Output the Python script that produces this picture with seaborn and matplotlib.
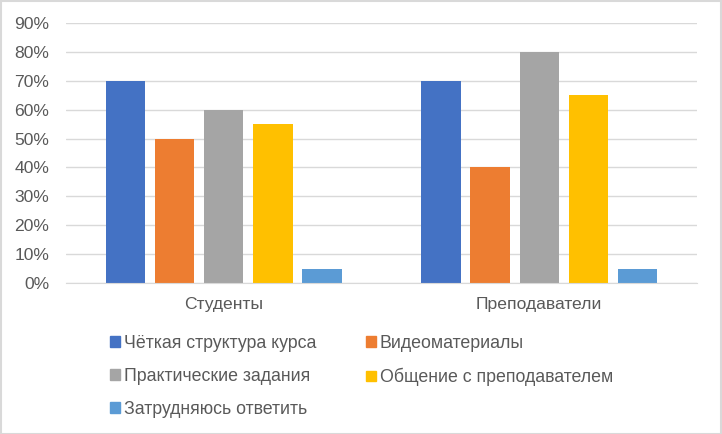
import matplotlib
matplotlib.use("Agg")
import matplotlib.pyplot as plt
import matplotlib.patches as mpatches
import seaborn as sns
import pandas as pd
from matplotlib.ticker import PercentFormatter

# данные
groups = ["Студенты", "Преподаватели"]
series = ["Чёткая структура курса", "Видеоматериалы", "Практические задания",
          "Общение с преподавателем", "Затрудняюсь ответить"]
students = [0.70, 0.50, 0.60, 0.55, 0.05]
teachers = [0.70, 0.40, 0.80, 0.65, 0.05]
colors = ["#4472C4", "#ED7D31", "#A5A5A5", "#FFC000", "#5B9BD5"]

rows = []
for s, a, b in zip(series, students, teachers):
    rows.append({"group": groups[0], "series": s, "value": a})
    rows.append({"group": groups[1], "series": s, "value": b})
df = pd.DataFrame(rows)

sns.set_style("white")
plt.rcParams["font.family"] = ["Liberation Sans", "DejaVu Sans"]
text_col = "#595959"

fig = plt.figure(figsize=(7.22, 4.34), dpi=100)
ax = fig.add_axes([66 / 722, 1 - 283 / 434, 631 / 722, 260 / 434])

sns.barplot(data=df, x="group", y="value", hue="series", order=groups,
            hue_order=series, palette=colors, width=0.78, gap=0.2,
            saturation=1, errorbar=None, legend=False, linewidth=0, ax=ax)

ax.set_xlim(-0.5, 1.5)
ax.set_ylim(0, 0.9)
ax.set_yticks([i / 10 for i in range(10)])
ax.yaxis.set_major_formatter(PercentFormatter(1.0, decimals=0))
ax.grid(axis="y", color="#D9D9D9", linewidth=1)
ax.set_axisbelow(True)
for sp in ["top", "right", "left"]:
    ax.spines[sp].set_visible(False)
ax.spines["bottom"].set_color("#D9D9D9")
ax.tick_params(axis="both", length=0, labelsize=12.6, colors=text_col)
ax.tick_params(axis="y", pad=12)
ax.tick_params(axis="x", pad=10)
ax.set_xlabel("")
ax.set_ylabel("")

# легенда: две колонки, заполнение по строкам
handles = [mpatches.Patch(color=c, label=s) for s, c in zip(series, colors)]
order = [0, 2, 4, 1, 3]
fig.legend([handles[i] for i in order], [series[i] for i in order],
           loc="upper left", bbox_to_anchor=(103 / 722, 1 - 328 / 434),
           ncol=2, frameon=False, fontsize=12.8, labelcolor=text_col,
           handlelength=0.56, handleheight=0.56, handletextpad=0.22,
           columnspacing=2.8, labelspacing=0.89, borderaxespad=0)

# рамка вокруг диаграммы
fig.patches.append(mpatches.Rectangle((0.001, 0.001), 0.998, 0.997,
                                      transform=fig.transFigure, fill=False,
                                      edgecolor="#D9D9D9", linewidth=1.5))

fig.savefig("out.png", dpi=100)
